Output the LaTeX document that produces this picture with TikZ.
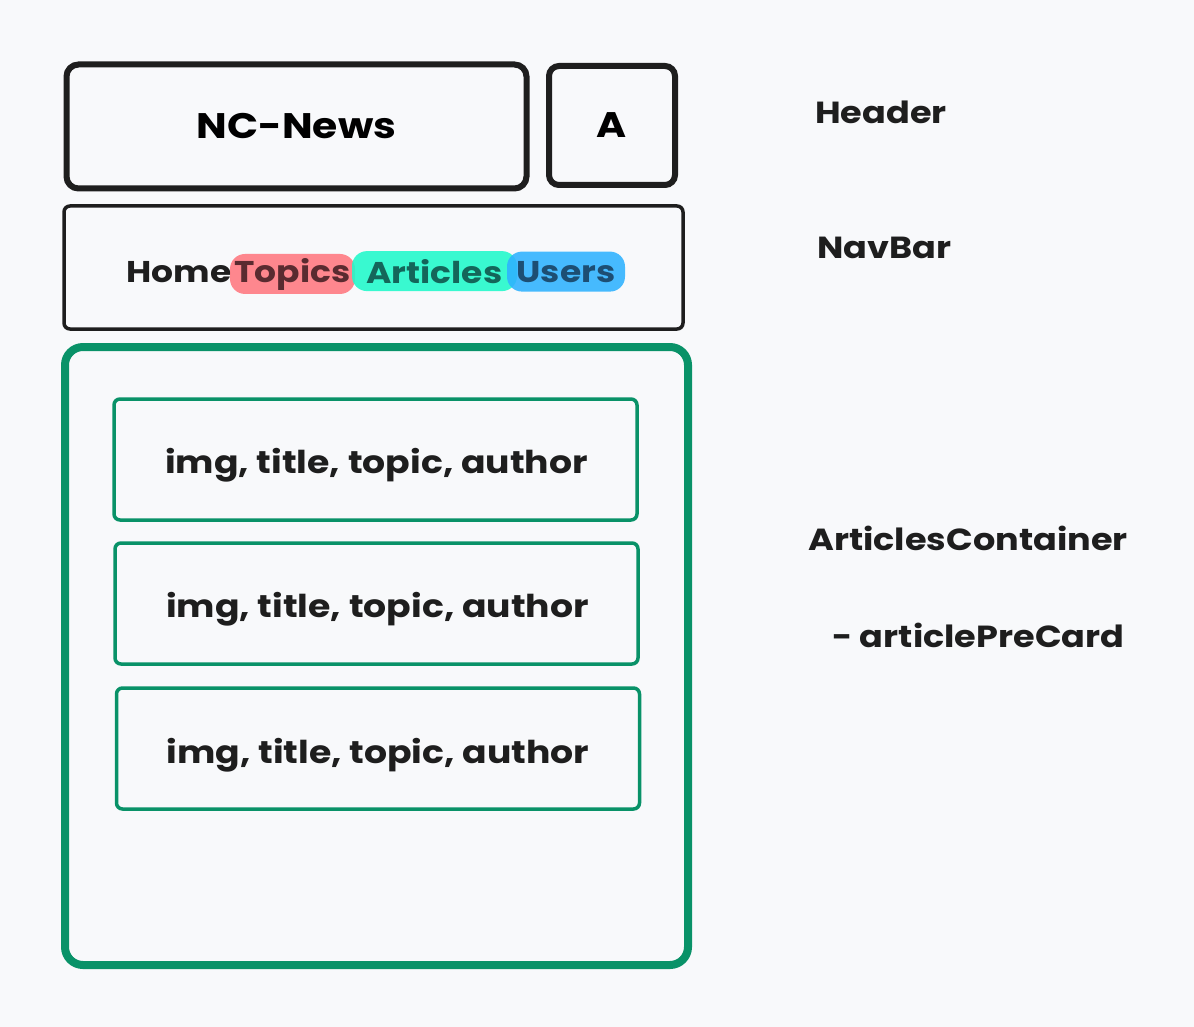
\documentclass[tikz,border=0pt]{standalone}
\usepackage{fontspec}
\setmainfont{Poppins}[FakeStretch=1.15]
\definecolor{bgc}{HTML}{F8F9FB}
\definecolor{ink}{HTML}{1E1E1E}
\definecolor{grn}{HTML}{099268}
\definecolor{hred}{HTML}{FF787F}
\definecolor{hteal}{HTML}{1FFACB}
\definecolor{hblue}{HTML}{2EB2FF}
\definecolor{tred}{HTML}{5A2B30}
\definecolor{tteal}{HTML}{14665A}
\definecolor{tblue}{HTML}{1D4E73}
\tikzset{
  box/.style={draw=ink, rounded corners=12pt, inner sep=0pt},
  card/.style={draw=grn, line width=3.5pt, rounded corners=6pt, minimum width=523pt, minimum height=121pt, inner sep=0pt, font=\fontsize{31.5}{36}\selectfont\bfseries, text=ink},
  lbl/.style={font=\fontsize{30.5}{34}\selectfont\bfseries, text=ink, inner sep=0pt},
  nav/.style={font=\fontsize{30}{34}\selectfont\bfseries},
  hl/.style={nav, rounded corners=15pt, fill opacity=0.88, text opacity=1, inner xsep=3pt, minimum height=40pt}
}
\begin{document}
\begin{tikzpicture}[x=1pt,y=-1pt]
\fill[bgc] (0,0) rectangle (1194,1027);
\useasboundingbox (0,0) rectangle (1194,1027);
% header
\node[box, line width=6pt, minimum width=460pt, minimum height=124pt, font=\fontsize{35.5}{40}\selectfont\bfseries] (title) at (296.5,126.5) {NC-News};
\node[box, line width=6pt, rounded corners=10pt, minimum width=126pt, minimum height=119pt, font=\fontsize{35.5}{40}\selectfont\bfseries] (avatar) at (612,125.5) {A};
% navbar
\node[box, line width=3.5pt, rounded corners=6pt, minimum width=619pt, minimum height=123pt] (navbar) at (373.5,267.5) {};
\node[nav, inner sep=0pt, text=ink, anchor=base] (home) at (179,282) {Home};
\node[hl, fill=hred, text=tred, minimum width=125pt, anchor=base] (topics) at (292.5,282) {Topics};
\node[hl, fill=hteal, text=tteal, minimum width=165pt, anchor=base] (articles) at (434.5,283) {Articles};
\node[hl, fill=hblue, text=tblue, minimum width=118pt, anchor=base] (users) at (566,282) {Users};
% container
\node[draw=grn, line width=8pt, rounded corners=18pt, minimum width=623pt, minimum height=618pt, inner sep=0pt] (container) at (376.5,656) {};
\node[card] (card1) at (375.5,459.5) {};
\node[card] (card2) at (376.5,603.5) {};
\node[card] (card3) at (378,748.5) {};
\node[card, draw=none, anchor=base] (t1) at (376.5,473) {img, title, topic, author};
\node[card, draw=none, anchor=base] (t2) at (377.5,617) {img, title, topic, author};
\node[card, draw=none, anchor=base] (t3) at (378,763) {img, title, topic, author};
% labels
\node[lbl, anchor=west] (lheader) at (815,112) {Header};
\node[lbl, anchor=west] (lnavbar) at (817,248) {NavBar};
\node[lbl, anchor=west] (lcontainer) at (808,538) {ArticlesContainer};
\node[lbl, anchor=west] (lcard) at (832,635) {- articlePreCard};
\end{tikzpicture}
\end{document}
